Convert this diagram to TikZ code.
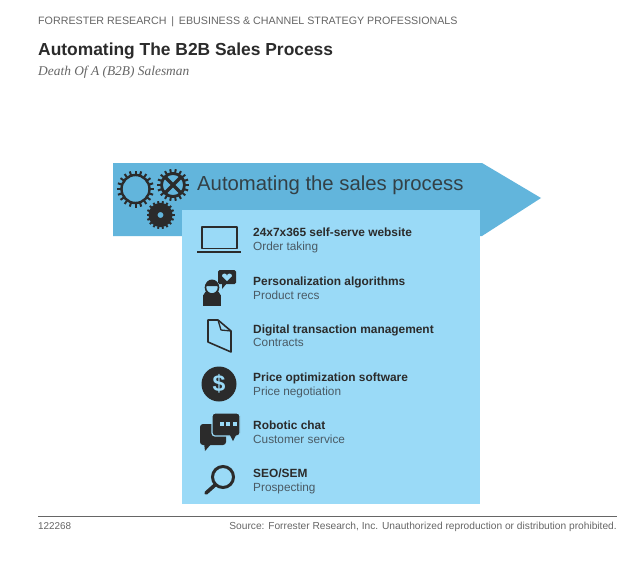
\documentclass[tikz,border=0pt]{standalone}
\usepackage{fontspec}
\setmainfont{Liberation Sans}
\newfontfamily\serifit{Liberation Serif}
\definecolor{arrowblue}{HTML}{62B5DC}
\definecolor{panelblue}{HTML}{9ADAF7}
\definecolor{ink}{HTML}{2B2B2B}
\definecolor{subink}{HTML}{4A5A64}
\definecolor{headgrey}{HTML}{666666}
\tikzset{
  itemtitle/.style={anchor=base west,inner sep=0pt,font=\fontsize{11.9}{13}\selectfont\bfseries,text=ink},
  itemsub/.style={anchor=base west,inner sep=0pt,font=\fontsize{11.8}{13}\selectfont,text=subink},
  icon/.style={draw=ink,line width=1.5pt,fill=none,line join=round},
  plain/.style={anchor=base west,inner sep=0pt}
}
% #1 centre, #2 ring radius, #3 ring width, #4 number of teeth, #5 outer radius
\newcommand{\geartoothed}[5]{%
  \draw[ink,line width=#3pt] (#1) circle[radius=#2pt];
  \foreach \a in {1,...,#4}{
    \draw[ink,line width=2pt] (#1) ++({\a*360/#4}:#2pt) -- ++({\a*360/#4}:{(#5-#2)*1pt});
  }%
}
\begin{document}
\begin{tikzpicture}[x=1pt,y=-1pt]
\useasboundingbox (0,0) rectangle (640,565);
\fill[white] (0,0) rectangle (640,565);
% header
\node[plain,text=headgrey,font=\fontsize{10.7}{12}\selectfont] (hdr) at (38,24.5) {FORRESTER RESEARCH \,|\, EBUSINESS \& CHANNEL STRATEGY PROFESSIONALS};
\node[plain,text=ink,font=\fontsize{17.4}{20}\selectfont\bfseries] (ttl) at (38,55) {Automating The B2B Sales Process};
\node[plain,text=headgrey,font=\fontsize{13.4}{15}\serifit\itshape] (sub) at (38,75) {Death Of A (B2B) Salesman};
% arrow
\fill[arrowblue] (113,163) -- (482,163) -- (541,198) -- (482,236) -- (113,236) -- cycle;
\node[plain,text=ink!85!arrowblue,font=\fontsize{20.3}{23}\selectfont] (head) at (197,190.5) {Automating the sales process};
% panel
\fill[panelblue] (182,210) rectangle (480,504);
% gears
\geartoothed{135.5,189}{14}{2.4}{20}{18.5}
\geartoothed{173,185}{11.5}{2.8}{18}{16}
\draw[ink,line width=3.4pt] (165,177) -- (181,193) (181,177) -- (165,193);
\geartoothed{160.5,215}{7.5}{9}{18}{14}
% laptop
\draw[icon] (202,227) rectangle (237,248.5);
\draw[ink,line width=2pt] (197,252) -- (241,252);
% person and speech bubble
\fill[ink] (203,295) rectangle (221,306);
\fill[ink] (203,298) arc[start angle=180,end angle=0,radius=9pt] -- cycle;
\draw[ink,line width=1.6pt,fill=panelblue] (212,287.5) circle[radius=6.5pt];
\fill[ink] (205.5,286) arc[start angle=180,end angle=0,radius=6.5pt] -- cycle;
\fill[ink,rounded corners=1.5pt] (218,270) rectangle (236,284);
\fill[ink] (222,283) -- (222,289) -- (227,283) -- cycle;
\fill[panelblue] (227,281) -- (222,276) arc[start angle=180,end angle=0,radius=2.5pt] arc[start angle=180,end angle=0,radius=2.5pt] -- cycle;
% document
\draw[icon,line width=1.6pt] (208,320) -- (218,320) -- (231,331) -- (231,352) -- (208,342) -- cycle;
\draw[icon,line width=1.3pt] (218,320) -- (221,330) -- (231,331);
% dollar coin
\fill[ink] (219,384) circle[radius=17.5pt];
\node[inner sep=0pt,text=panelblue,font=\fontsize{23}{24}\selectfont\bfseries] (dollar) at (219,384) {\$};
% chat bubbles
\fill[ink,rounded corners=3pt] (200,424) rectangle (226,445);
\fill[ink] (204,443) -- (205,451) -- (212,443) -- cycle;
\draw[panelblue,line width=1.2pt,fill=ink,rounded corners=3pt] (212,413) rectangle (240,436);
\fill[ink] (230,435) -- (233,441) -- (236,435) -- cycle;
\foreach \cx in {219.5,226,232.5}{\fill[panelblue] (\cx,422) rectangle ++(4.2,3.6);}
% magnifier
\draw[ink,line width=3pt] (223,477) circle[radius=10.5pt];
\draw[ink,line width=3.6pt,line cap=round] (215,485) -- (206,493);
% items
\node[itemtitle] (t1) at (253,236.5) {24x7x365 self-serve website};
\node[itemsub] (s1) at (253,250) {Order taking};
\node[itemtitle] (t2) at (253,285.5) {Personalization algorithms};
\node[itemsub] (s2) at (253,299) {Product recs};
\node[itemtitle] (t3) at (253,333) {Digital transaction management};
\node[itemsub] (s3) at (253,346.5) {Contracts};
\node[itemtitle] (t4) at (253,381.5) {Price optimization software};
\node[itemsub] (s4) at (253,395) {Price negotiation};
\node[itemtitle] (t5) at (253,429.5) {Robotic chat};
\node[itemsub] (s5) at (253,443) {Customer service};
\node[itemtitle] (t6) at (253,477.5) {SEO/SEM};
\node[itemsub] (s6) at (253,491) {Prospecting};
% footer
\draw[draw=headgrey,line width=1.3pt] (38,516.5) -- (617,516.5);
\node[plain,text=headgrey,font=\fontsize{9.9}{11}\selectfont] (num) at (38,529.5) {122268};
\node[anchor=base east,inner sep=0pt,text=headgrey,font=\fontsize{10.2}{11}\selectfont] (src) at (617,529.5) {Source: Forrester Research, Inc. Unauthorized reproduction or distribution prohibited.};
\end{tikzpicture}
\end{document}
